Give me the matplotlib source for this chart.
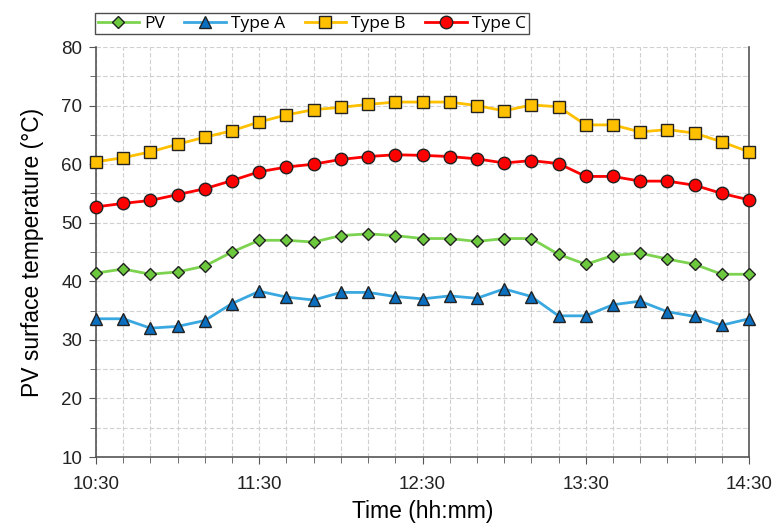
import matplotlib
matplotlib.use("Agg")
import matplotlib.pyplot as plt
from matplotlib.ticker import MultipleLocator, FixedLocator

times = ["10:30", "10:40", "10:50", "11:00", "11:10", "11:20", "11:30", "11:40", "11:50",
         "12:00", "12:10", "12:20", "12:30", "12:40", "12:50", "13:00", "13:10", "13:20",
         "13:30", "13:40", "13:50", "14:00", "14:10", "14:20", "14:30"]
pv = [41.4, 42.1, 41.2, 41.6, 42.6, 45.0, 47.0, 47.0, 46.7, 47.8, 48.1, 47.8, 47.3,
      47.3, 46.8, 47.3, 47.3, 44.6, 42.9, 44.4, 44.8, 43.8, 42.9, 41.2, 41.2]
type_a = [33.6, 33.6, 32.0, 32.3, 33.3, 36.2, 38.3, 37.3, 36.8, 38.1, 38.1, 37.4, 37.0,
          37.5, 37.1, 38.7, 37.4, 34.1, 34.1, 36.0, 36.6, 34.8, 34.0, 32.5, 33.6]
type_b = [60.4, 61.1, 62.1, 63.4, 64.6, 65.7, 67.2, 68.4, 69.3, 69.7, 70.2, 70.6, 70.6,
          70.6, 70.0, 69.1, 70.1, 69.8, 66.7, 66.7, 65.5, 65.9, 65.3, 63.8, 62.1]
type_c = [52.7, 53.3, 53.8, 54.8, 55.8, 57.2, 58.7, 59.5, 60.0, 60.8, 61.3, 61.6, 61.5,
          61.3, 60.9, 60.2, 60.6, 60.1, 57.9, 57.9, 57.1, 57.1, 56.4, 55.0, 53.9]
hour_labels = ["10:30", "11:30", "12:30", "13:30", "14:30"]

def to_min(s):
    h, m = s.split(":")
    return int(h) * 60 + int(m)

x = [to_min(t) for t in times]
hx = [to_min(t) for t in hour_labels]

plt.rcParams['font.family'] = ['Liberation Sans', 'DejaVu Sans']

fig = plt.figure(figsize=(7.74, 5.28), dpi=100)
ax = fig.add_axes([96 / 774, 1 - 457 / 528, (749 - 96) / 774, (457 - 47) / 528])

series = [
    ("PV", pv, "#7CD34F", "#6CC83C", "D", 6.5),
    ("Type A", type_a, "#3AA8E0", "#0B6FC0", "^", 9),
    ("Type B", type_b, "#FFC000", "#FFC000", "s", 8.5),
    ("Type C", type_c, "#FF0000", "#FF0000", "o", 9),
]
for name, vals, lc, fc, mk, ms in series:
    ax.plot(x, vals, color=lc, lw=2, marker=mk, markersize=ms,
            markerfacecolor=fc, markeredgecolor="#222222", markeredgewidth=1.0,
            label=name, zorder=3, clip_on=False)

ax.set_xlim(hx[0], hx[-1])
ax.set_ylim(10, 80)
ax.xaxis.set_major_locator(FixedLocator(hx))
ax.set_xticklabels(hour_labels)
ax.xaxis.set_minor_locator(FixedLocator(x))
ax.yaxis.set_major_locator(MultipleLocator(10))
ax.yaxis.set_minor_locator(MultipleLocator(5))

ax.grid(which="both", color="#d0d0d0", linestyle=(0, (4, 2)), linewidth=0.8, zorder=0)
ax.set_axisbelow(True)

for s in ["left", "bottom", "right"]:
    ax.spines[s].set_color("#555555")
    ax.spines[s].set_linewidth(1.2)
ax.spines["top"].set_visible(False)

ax.tick_params(which="major", direction="out", length=5, color="#555555", labelsize=13.5,
               labelcolor="#222222", pad=9)
ax.tick_params(which="minor", direction="out", length=4, color="#555555")
ax.tick_params(axis="y", which="major", pad=5)

ax.set_ylabel("PV surface temperature (°C)", fontsize=16.5, labelpad=12)
ax.set_xlabel("Time (hh:mm)", fontsize=16.5, labelpad=5)

leg = fig.legend(loc="upper left", bbox_to_anchor=(95 / 774, 1 - 13 / 528), ncol=4,
                 frameon=True, fancybox=False, edgecolor="#222222",
                 prop={'family': ['Open Sans', 'DejaVu Sans'], 'size': 12.5},
                 handlelength=2.4, columnspacing=1.1, handletextpad=0.3,
                 borderpad=0.15, borderaxespad=0)
leg.get_frame().set_linewidth(1.0)

fig.savefig("out.png", dpi=100)
